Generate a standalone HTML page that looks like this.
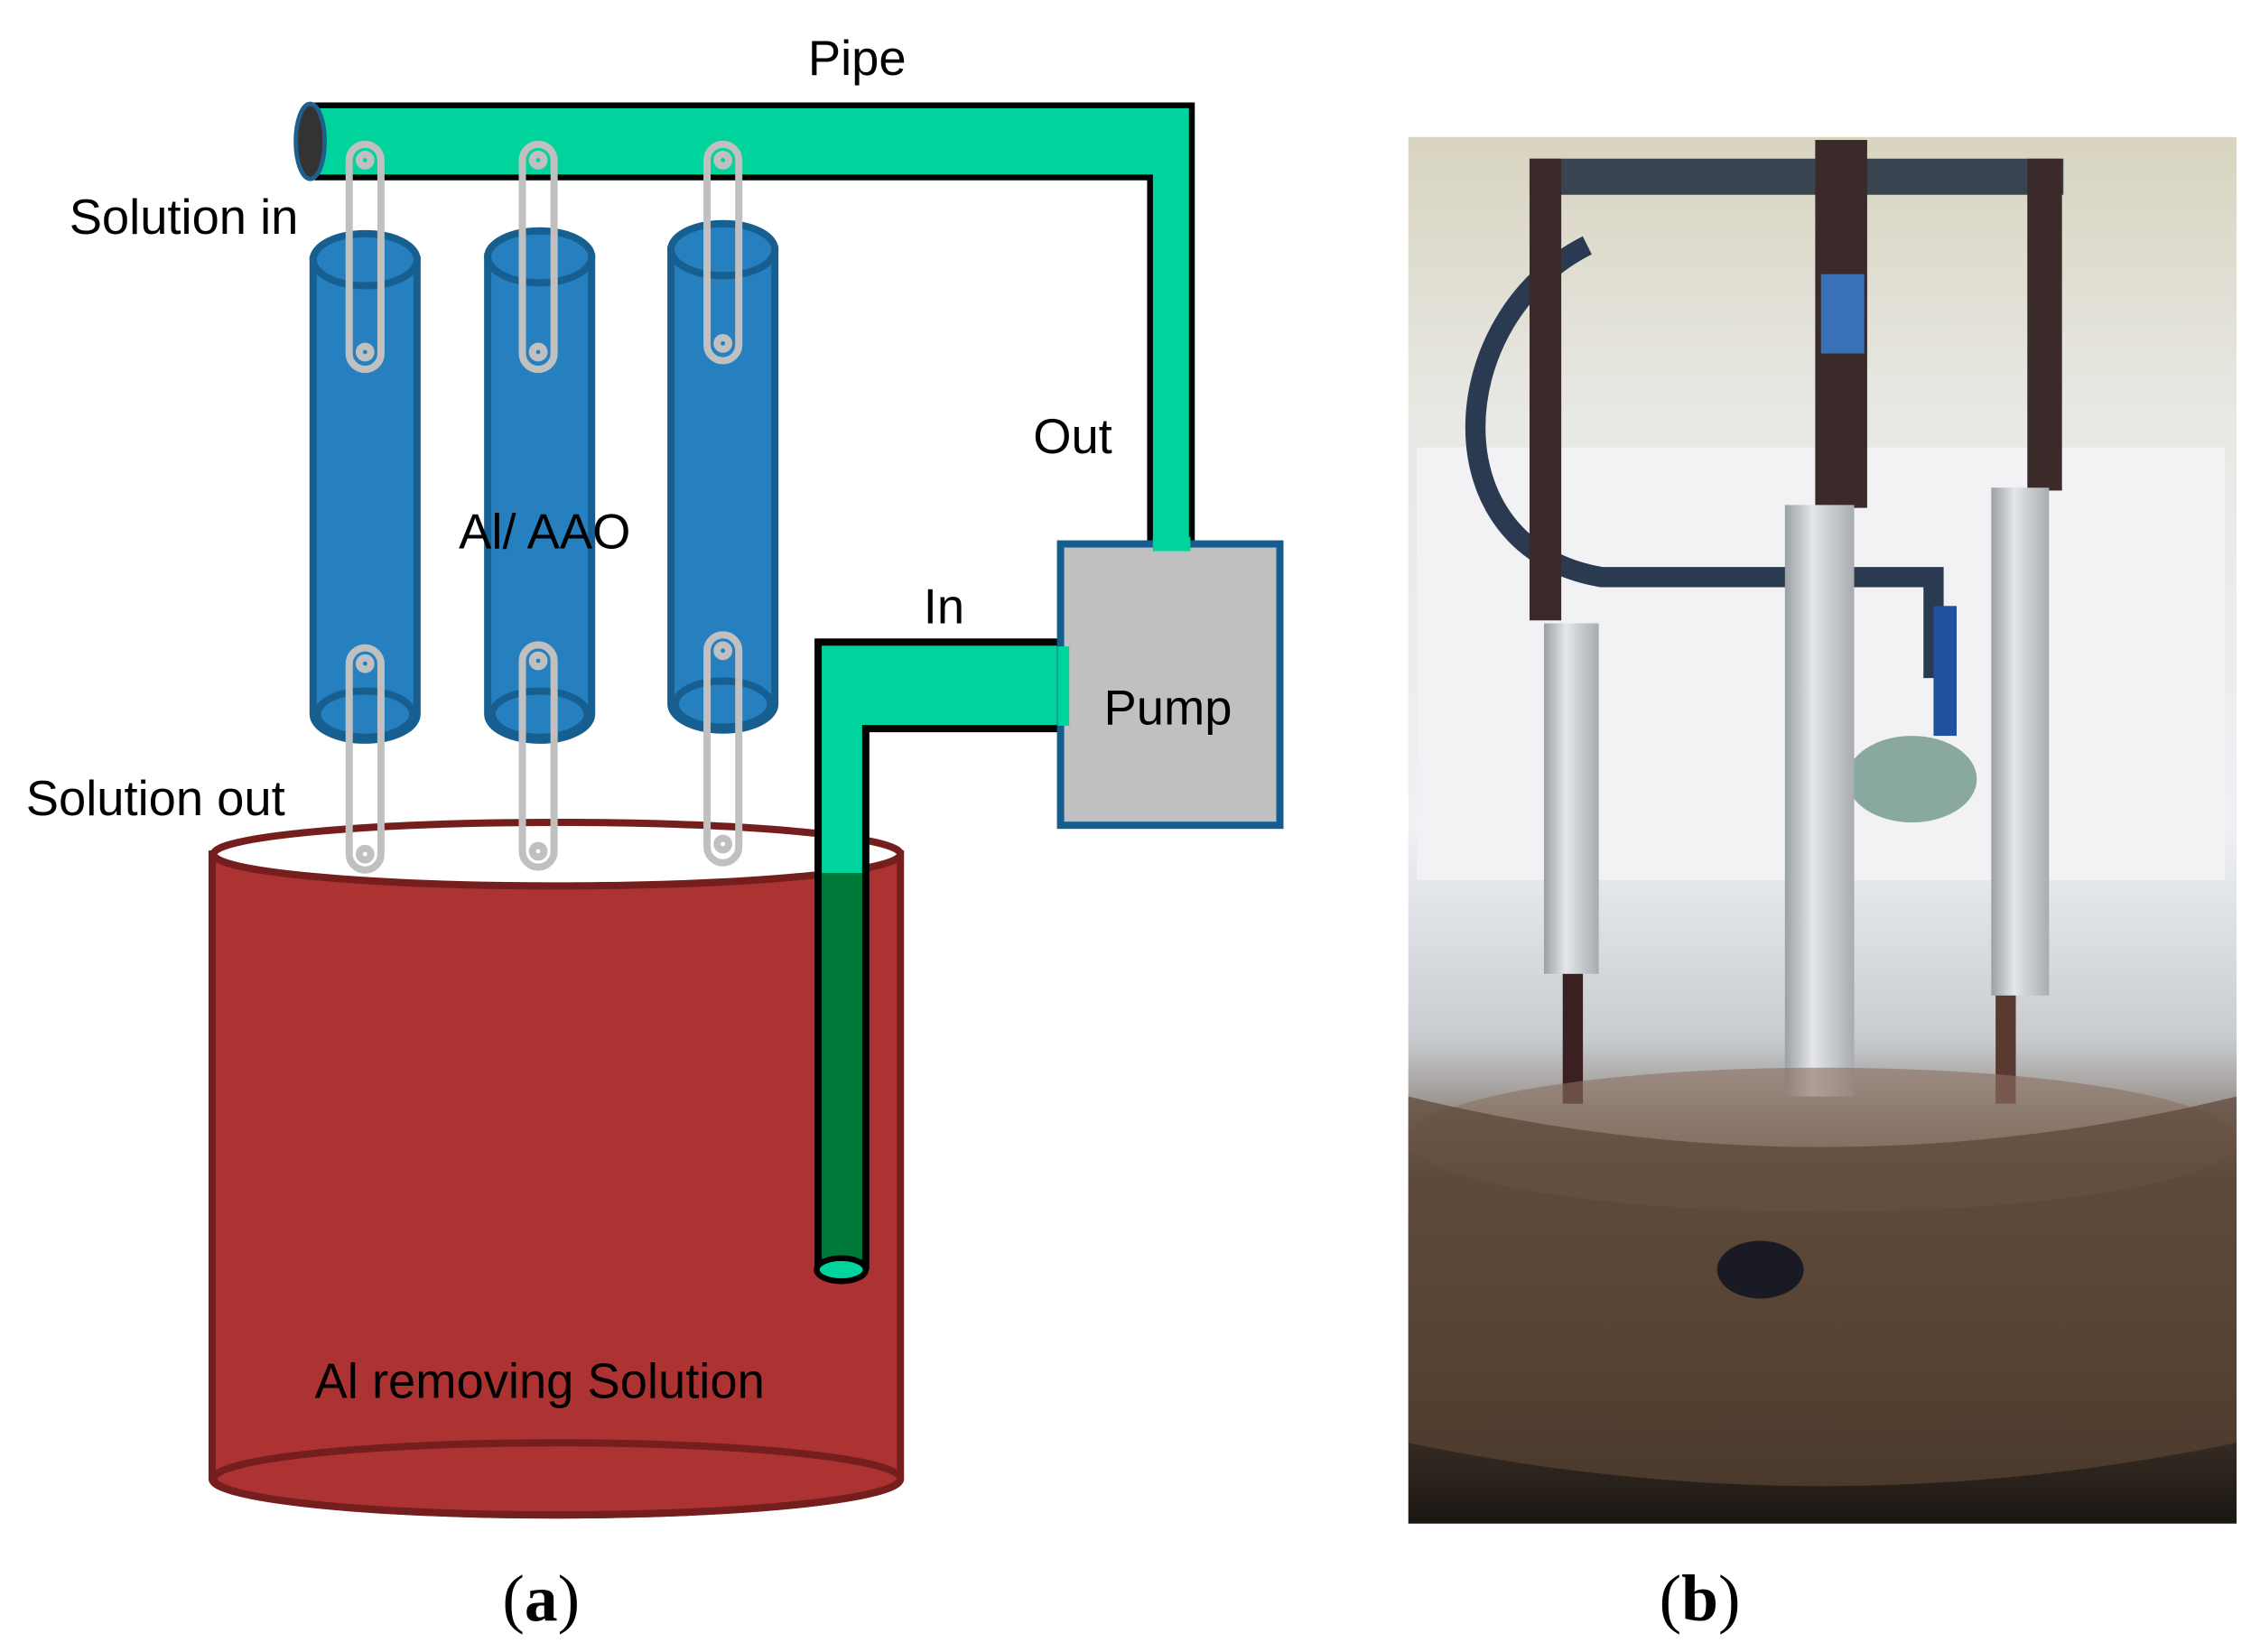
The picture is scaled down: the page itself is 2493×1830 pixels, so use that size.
<!DOCTYPE html>
<html><head><meta charset="utf-8"><style>html,body{margin:0;padding:0;background:#fff}svg{display:block}</style></head>
<body>
<svg width="2493" height="1830" viewBox="0 0 1560 1145" preserveAspectRatio="none" xmlns="http://www.w3.org/2000/svg">
<defs>
<linearGradient id="bg" x1="0" y1="0" x2="0" y2="1">
<stop offset="0" stop-color="#d8d4c0"/><stop offset="0.2" stop-color="#e8e8e4"/><stop offset="0.5" stop-color="#eef0f4"/><stop offset="0.65" stop-color="#c8ccd0"/><stop offset="0.75" stop-color="#6a5848"/><stop offset="0.9" stop-color="#4a3a2e"/><stop offset="1" stop-color="#1a1612"/></linearGradient>
<linearGradient id="al" x1="0" y1="0" x2="1" y2="0"><stop offset="0" stop-color="#9aa0a4"/><stop offset="0.4" stop-color="#e4e6e8"/><stop offset="1" stop-color="#a8acb0"/></linearGradient>
</defs>
<rect width="1560" height="1145" fill="#fff"/>
<!-- top pipe -->
<path d="M218 73 H826 V378 H797 V123 H218 Z" fill="#00d39c"/>
<path d="M218 73 H826 V378" fill="none" stroke="#000" stroke-width="4"/>
<path d="M218 123 H797 V378" fill="none" stroke="#000" stroke-width="4"/>
<ellipse cx="215" cy="98" rx="10" ry="26" fill="#333" stroke="#1f5f8b" stroke-width="3"/>
<!-- tank -->
<path d="M147 592 V1025 A238 25 0 0 0 624 1025 V592 Z" fill="#ad3232" stroke="#741e1e" stroke-width="5"/>
<ellipse cx="386" cy="592" rx="238" ry="22" fill="#fff" stroke="#741e1e" stroke-width="5"/>
<ellipse cx="386" cy="1025" rx="238" ry="25" fill="none" stroke="#741e1e" stroke-width="5"/>
<!-- in pipe -->
<path d="M567 445 H735 V505 H600 V880 H567 Z" fill="#00d39c"/>
<path d="M570 605 H600 V880 H567 V605 Z" fill="#007a3a"/>
<path d="M735 445 H567 V880" fill="none" stroke="#000" stroke-width="5"/>
<path d="M735 505 H600 V880" fill="none" stroke="#000" stroke-width="5"/>
<ellipse cx="583" cy="880" rx="17" ry="8" fill="#00d39c" stroke="#000" stroke-width="4"/>
<!-- pump -->
<rect x="735" y="377" width="152" height="195" fill="#c0c0c0" stroke="#145d8e" stroke-width="5"/>
<rect x="799" y="372" width="26" height="10" fill="#00d39c"/>
<rect x="733" y="448" width="8" height="55" fill="#00d39c"/>
<!-- cylinders -->
<g fill="#2680c0" stroke="#165f90" stroke-width="5">
<path d="M217 180 V495 A36 18 0 0 0 289 495 V180 Z"/><ellipse cx="253" cy="180" rx="36" ry="18"/><ellipse cx="253" cy="495" rx="33" ry="16"/>
<path d="M338 178 V495 A36 18 0 0 0 410 495 V178 Z"/><ellipse cx="374" cy="178" rx="36" ry="18"/><ellipse cx="374" cy="495" rx="33" ry="16"/>
<path d="M465 173 V488 A36 18 0 0 0 537 488 V173 Z"/><ellipse cx="501" cy="173" rx="36" ry="18"/><ellipse cx="501" cy="488" rx="33" ry="16"/>
</g>
<!-- gray tubes -->
<g fill="none" stroke="#c0c0c0" stroke-width="5">
<rect x="242" y="100" width="22" height="156" rx="11"/><circle cx="253" cy="111" r="4"/><circle cx="253" cy="244" r="4"/>
<rect x="362" y="100" width="22" height="156" rx="11"/><circle cx="373" cy="111" r="4"/><circle cx="373" cy="244" r="4"/>
<rect x="490" y="100" width="22" height="150" rx="11"/><circle cx="501" cy="111" r="4"/><circle cx="501" cy="238" r="4"/>
<rect x="242" y="449" width="22" height="154" rx="11"/><circle cx="253" cy="460" r="4"/><circle cx="253" cy="592" r="4"/>
<rect x="362" y="447" width="22" height="154" rx="11"/><circle cx="373" cy="458" r="4"/><circle cx="373" cy="590" r="4"/>
<rect x="490" y="440" width="22" height="158" rx="11"/><circle cx="501" cy="451" r="4"/><circle cx="501" cy="585" r="4"/>
</g>
<!-- labels -->
<g font-family="Liberation Sans, sans-serif" font-size="34" fill="#000">
<text x="594" y="52" text-anchor="middle">Pipe</text>
<text x="48" y="162">Solution in</text>
<text x="716" y="314">Out</text>
<text x="318" y="380">Al/ AAO</text>
<text x="640" y="432">In</text>
<text x="765" y="502">Pump</text>
<text x="18" y="565">Solution out</text>
<text x="374" y="969" text-anchor="middle">Al removing Solution</text>
</g>
<g font-family="Liberation Serif, serif" font-size="46" fill="#000">
<text x="375" y="1123" text-anchor="middle">(<tspan font-weight="bold">a</tspan>)</text>
<text x="1178" y="1123" text-anchor="middle">(<tspan font-weight="bold">b</tspan>)</text>
</g>
<!-- photo -->
<rect x="976" y="95" width="574" height="961" fill="url(#bg)"/>
<rect x="982" y="310" width="560" height="300" fill="#f2f2f4"/>
<path d="M1060 110 H1430 V135 H1060 Z" fill="#3a4450"/>
<path d="M1100 170 C1000 220 990 380 1110 400 H1340 V470" fill="none" stroke="#2a3a50" stroke-width="14"/>
<rect x="1060" y="110" width="22" height="320" fill="#3a2a2a"/>
<rect x="1258" y="97" width="36" height="255" fill="#3a2a2a"/>
<rect x="1405" y="110" width="24" height="230" fill="#3a2a2a"/>
<rect x="1262" y="190" width="30" height="55" fill="#3a70b8"/>
<rect x="1340" y="420" width="16" height="90" fill="#2050a0"/>
<ellipse cx="1325" cy="540" rx="45" ry="30" fill="#88a8a0"/>
<rect x="1070" y="432" width="38" height="243" fill="url(#al)"/>
<rect x="1237" y="350" width="48" height="410" fill="url(#al)"/>
<rect x="1380" y="338" width="40" height="352" fill="url(#al)"/>
<rect x="1083" y="675" width="14" height="90" fill="#3a2020"/>
<rect x="1383" y="690" width="14" height="75" fill="#5a3a30"/>
<ellipse cx="1263" cy="790" rx="287" ry="50" fill="#8a7060" opacity="0.6"/>
<path d="M976 760 Q1263 830 1550 760 V1000 Q1263 1060 976 1000 Z" fill="#5a4434" opacity="0.7"/>
<ellipse cx="1220" cy="880" rx="30" ry="20" fill="#1a1a24"/>
</svg>
</body></html>
